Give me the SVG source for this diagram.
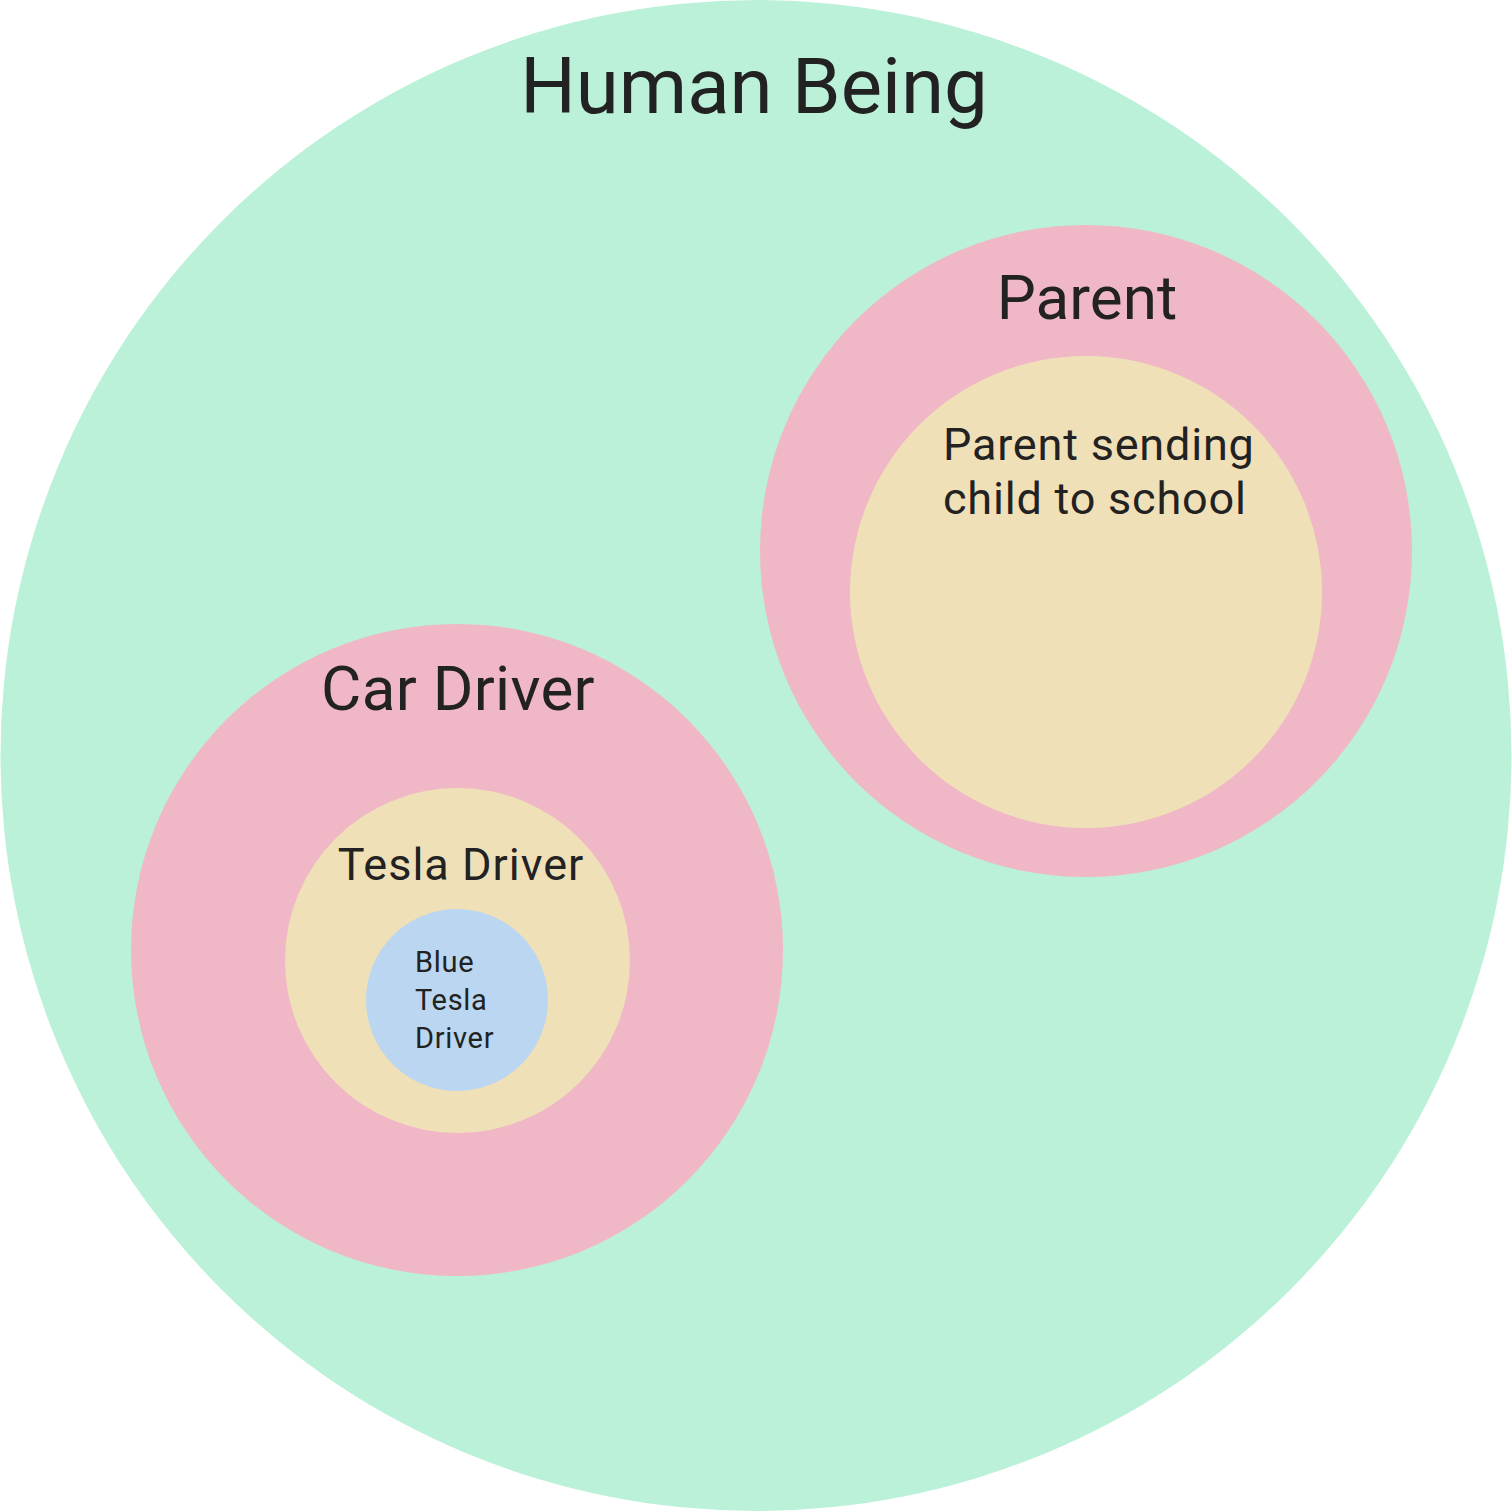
<svg xmlns="http://www.w3.org/2000/svg" width="1512" height="1511" viewBox="0 0 1512 1511">
<style>
text{font-family:Roboto,"Liberation Sans",sans-serif;fill:#222222}
.green{fill:#BAF1D8}
.pink{fill:#F0B8C6}
.yellow{fill:#F0E0B8}
.blue{fill:#BAD6F0}
.mid{text-anchor:middle}
.m45{font-size:45px;letter-spacing:0.8px}
.s29{font-size:29px;letter-spacing:0.7px}
</style>
<rect width="1512" height="1511" fill="#ffffff"/>
<g id="human-being">
<circle class="green" cx="756" cy="755.5" r="755.5"/>
<text class="mid" x="754" y="113" font-size="78">Human Being</text>
</g>
<g id="parent">
<circle class="pink" cx="1086" cy="551" r="326"/>
<text class="mid" x="1087" y="319" font-size="62">Parent</text>
</g>
<g id="parent-sending">
<circle class="yellow" cx="1086" cy="592" r="236"/>
<text class="m45" x="943" y="460">Parent sending</text>
<text class="m45" x="943" y="514">child to school</text>
</g>
<g id="car-driver">
<circle class="pink" cx="457" cy="950" r="326"/>
<text class="mid" x="458" y="710" font-size="62" letter-spacing="0.3">Car Driver</text>
</g>
<g id="tesla-driver">
<circle class="yellow" cx="457.5" cy="960.5" r="172.5"/>
<text class="mid" x="461" y="880" font-size="45" letter-spacing="1">Tesla Driver</text>
</g>
<g id="blue-tesla-driver">
<circle class="blue" cx="457" cy="1000" r="91"/>
<text class="s29" x="415" y="972">Blue</text>
<text class="s29" x="415" y="1010">Tesla</text>
<text class="s29" x="415" y="1048">Driver</text>
</g>
<g id="connectors"></g>
</svg>
